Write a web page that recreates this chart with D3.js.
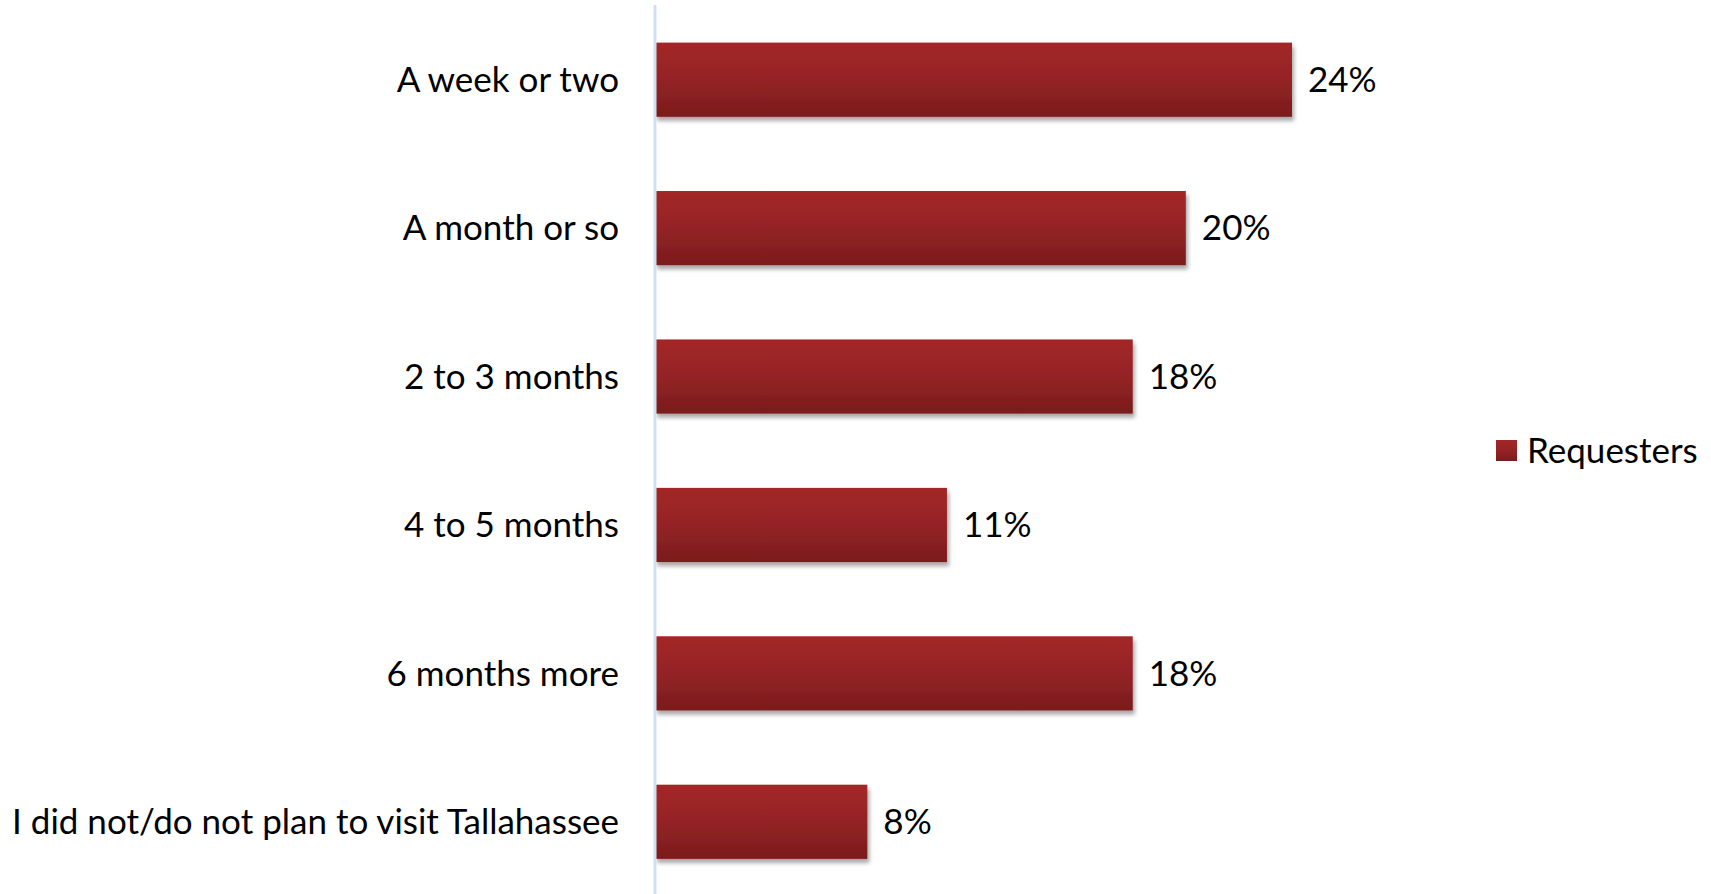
<!DOCTYPE html>
<html>
<head>
<meta charset="utf-8">
<script src="https://cdn.jsdelivr.net/npm/d3@7"></script>
<style>
  html, body { margin: 0; padding: 0; background: #fff; }
  svg { display: block; }
  text { font-family: Lato, "Open Sans", sans-serif; fill: #000; }
</style>
</head>
<body>
<svg id="chart" width="1711" height="894"></svg>
<script>
// Time before visiting — share of requesters
const categories = [
  "A week or two",
  "A month or so",
  "2 to 3 months",
  "4 to 5 months",
  "6 months more",
  "I did not/do not plan to visit Tallahassee"
];
const values = [24, 20, 18, 11, 18, 8];
const seriesName = "Requesters";

const svg = d3.select("#chart");
const width = 1711, height = 894;
const plotLeft = 655;

const x = d3.scaleLinear().domain([0, 24]).range([plotLeft, 1292]);
const y = d3.scaleBand().domain(categories).range([5.5, 896]).paddingInner(0.5).paddingOuter(0.25);

const defs = svg.append("defs");
const grad = defs.append("linearGradient")
  .attr("id", "barGrad").attr("x1", 0).attr("y1", 0).attr("x2", 0).attr("y2", 1);
grad.append("stop").attr("offset", "0%").attr("stop-color", "#a32628");
grad.append("stop").attr("offset", "45%").attr("stop-color", "#962426");
grad.append("stop").attr("offset", "100%").attr("stop-color", "#7b1c1c");

const shadow = defs.append("filter").attr("id", "shadow")
  .attr("x", "-5%").attr("y", "-10%").attr("width", "115%").attr("height", "140%");
shadow.append("feGaussianBlur").attr("in", "SourceAlpha").attr("stdDeviation", 2.2).attr("result", "b");
shadow.append("feOffset").attr("in", "b").attr("dx", 2).attr("dy", 4).attr("result", "o");
shadow.append("feComponentTransfer").attr("in", "o").attr("result", "s")
  .append("feFuncA").attr("type", "linear").attr("slope", 0.35);
const merge = shadow.append("feMerge");
merge.append("feMergeNode").attr("in", "s");
merge.append("feMergeNode").attr("in", "SourceGraphic");

// bars
svg.append("g").selectAll("rect")
  .data(categories)
  .join("rect")
  .attr("x", x(0))
  .attr("y", d => y(d))
  .attr("width", (d, i) => x(values[i]) - x(0))
  .attr("height", y.bandwidth())
  .attr("fill", "url(#barGrad)")
  .attr("filter", "url(#shadow)");

// vertical category axis line
svg.append("line")
  .attr("x1", plotLeft).attr("x2", plotLeft)
  .attr("y1", 5).attr("y2", height)
  .attr("stroke", "#dbe6f3").attr("stroke-width", 3);
svg.append("line")
  .attr("x1", plotLeft).attr("x2", plotLeft)
  .attr("y1", 5).attr("y2", height)
  .attr("stroke", "#c4d7ee").attr("stroke-width", 1);

// category labels
const fs = 35;
svg.append("g").selectAll("text")
  .data(categories)
  .join("text")
  .attr("x", 619)
  .attr("y", d => y(d) + y.bandwidth() / 2)
  .attr("dy", "0.35em")
  .attr("text-anchor", "end")
  .attr("font-size", fs)
  .text(d => d);

// value labels
svg.append("g").selectAll("text")
  .data(categories)
  .join("text")
  .attr("x", (d, i) => x(values[i]) + 16)
  .attr("y", d => y(d) + y.bandwidth() / 2)
  .attr("dy", "0.35em")
  .attr("font-size", fs)
  .text((d, i) => values[i] + "%");

// legend
const lg = svg.append("g").attr("transform", "translate(1496,440)");
lg.append("rect").attr("width", 21).attr("height", 21).attr("fill", "url(#barGrad)");
lg.append("text").attr("x", 31).attr("y", 10.5).attr("dy", "0.35em")
  .attr("font-size", fs).text(seriesName);
</script>
</body>
</html>
